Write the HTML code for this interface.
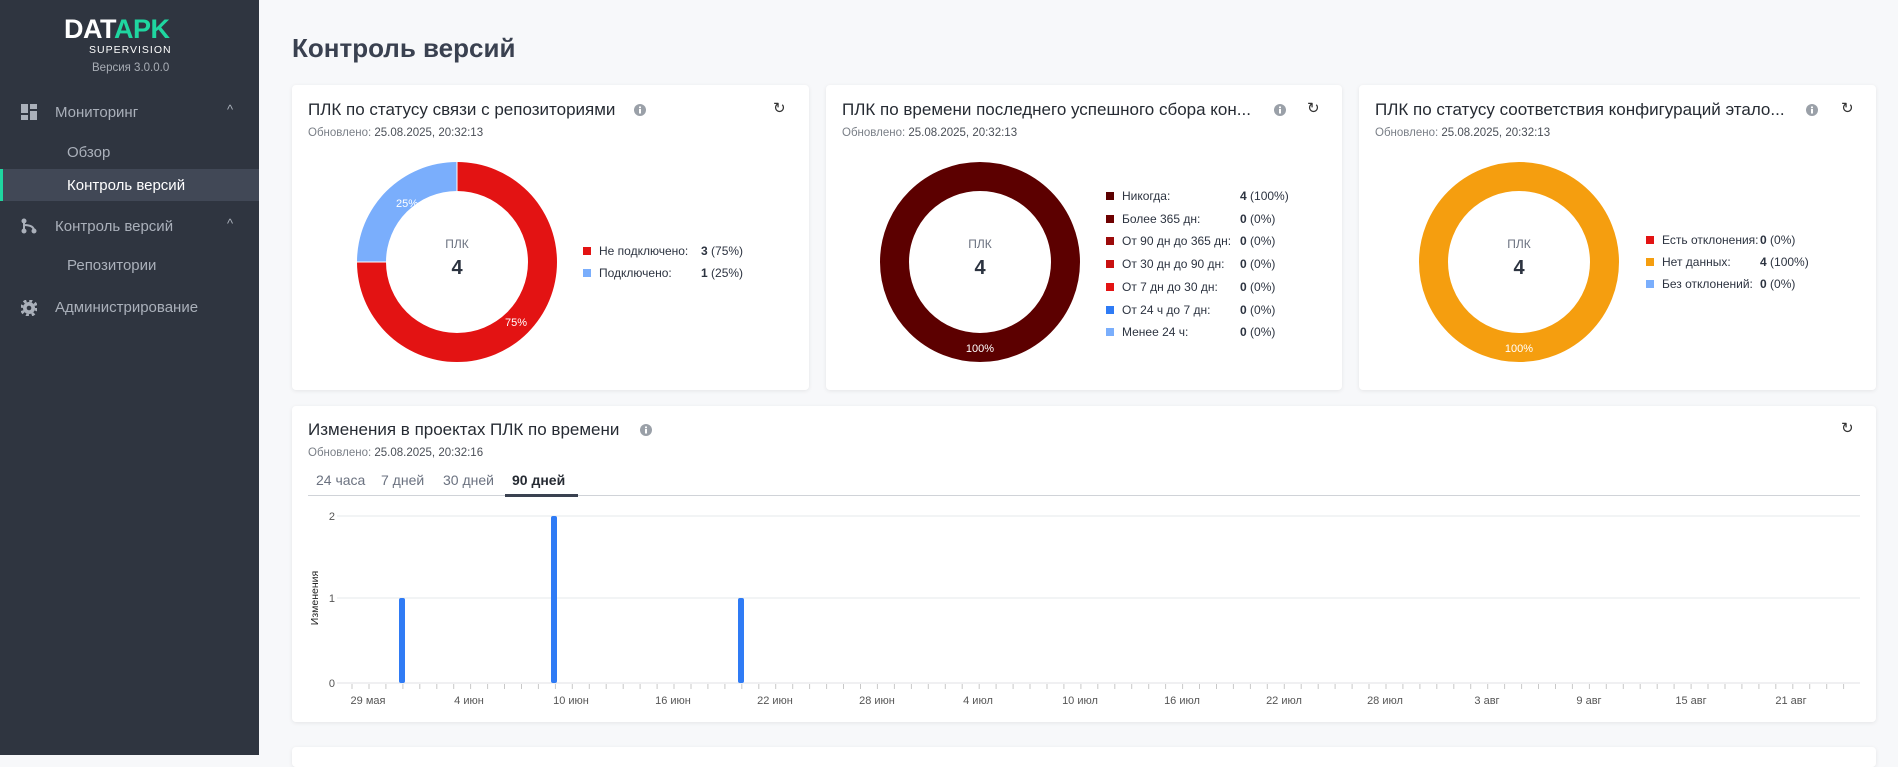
<!DOCTYPE html>
<html><head><meta charset="utf-8"><style>
*{margin:0;padding:0;box-sizing:border-box}
body{width:1898px;height:755px;overflow:hidden;background:#f7f8fa;font-family:"Liberation Sans",sans-serif;position:relative;color:#2c3340}
.a{position:absolute;white-space:nowrap}
.side{position:absolute;left:0;top:0;width:259px;height:755px;background:#2f3540}
.card{position:absolute;background:#fff;border-radius:4px;box-shadow:0 1px 4px rgba(0,0,0,.08)}
.t{font-size:17px;color:#262b33}
.u{font-size:11.5px;color:#7a7f87}
.u b{color:#4a4f57;font-weight:normal}
.nav{color:#aab0ba;font-size:15px}
.lg{font-size:12px;color:#2c3340}
.sq{display:inline-block;width:8px;height:8px;margin-right:8px;vertical-align:0}
</style></head><body>
<div class="side">
 <div class="a" style="left:64px;top:14px;font-size:27px;font-weight:bold;letter-spacing:-0.5px;color:#fff">DAT<span style="color:#1fd6a0">APK</span></div>
 <div class="a" style="left:89px;top:44px;font-size:10.5px;color:#fff;letter-spacing:1px">SUPERVISION</div>
 <div class="a" style="left:92px;top:62px;font-size:11.5px;color:#a8adb5">Версия 3.0.0.0</div>
 <svg class="a" style="left:21px;top:104px" width="16" height="16"><rect x="0" y="0" width="7" height="9" fill="#aab0ba"/><rect x="9" y="0" width="7" height="5" fill="#aab0ba"/><rect x="9" y="7" width="7" height="9" fill="#aab0ba"/><rect x="0" y="11" width="7" height="5" fill="#aab0ba"/></svg>
 <div class="a nav" style="left:55px;top:104px">Мониторинг</div>
 <div class="a nav" style="left:227px;top:102px;font-size:13px">^</div>
 <div class="a nav" style="left:67px;top:144px">Обзор</div>
 <div class="a" style="left:0;top:169px;width:259px;height:32px;background:#414856;border-left:3px solid #1fd6a0"></div>
 <div class="a" style="left:67px;top:177px;font-size:15px;color:#fff">Контроль версий</div>
 <svg class="a" style="left:21px;top:218px" width="16" height="16"><circle cx="3" cy="3" r="2.5" fill="#aab0ba"/><circle cx="3" cy="13" r="2.5" fill="#aab0ba"/><circle cx="13" cy="13" r="2.5" fill="#aab0ba"/><path d="M3 3V13M3 7Q13 7 13 13" stroke="#aab0ba" stroke-width="2" fill="none"/></svg>
 <div class="a nav" style="left:55px;top:218px">Контроль версий</div>
 <div class="a nav" style="left:227px;top:216px;font-size:13px">^</div>
 <div class="a nav" style="left:67px;top:257px">Репозитории</div>
 <svg class="a" style="left:21px;top:300px" width="16" height="16"><circle cx="8" cy="8" r="6" fill="#aab0ba"/><circle cx="8" cy="8" r="7.5" fill="none" stroke="#aab0ba" stroke-width="3" stroke-dasharray="3 2.9"/><circle cx="8" cy="8" r="2.3" fill="#2f3540"/></svg>
 <div class="a nav" style="left:55px;top:299px">Администрирование</div>
</div>
<div class="a" style="left:292px;top:33px;font-size:26px;font-weight:bold;color:#3a4150">Контроль версий</div>

<!-- card 1 -->
<div class="card" style="left:292px;top:85px;width:517px;height:305px"></div>
<div class="a t" style="left:308px;top:100px">ПЛК по статусу связи с репозиториями</div>
<svg class="a" style="left:634px;top:104px" width="12" height="12"><circle cx="6" cy="6" r="6" fill="#9aa0a8"/><rect x="5" y="5" width="2" height="4.5" fill="#fff"/><rect x="5" y="2.5" width="2" height="1.7" fill="#fff"/></svg>
<div class="a" style="left:773px;top:99px;font-size:15px;color:#333">↻</div>
<div class="a u" style="left:308px;top:127px">Обновлено: <b>25.08.2025, 20:32:13</b></div>
<svg class="a" style="left:357px;top:162px" width="200" height="200">
 <path d="M100 0A100 100 0 1 1 0 100L29 100A71 71 0 1 0 100 29Z" fill="#e31313"/>
 <path d="M0 100A100 100 0 0 1 100 0L100 29A71 71 0 0 0 29 100Z" fill="#7aaefc"/>
 <line x1="100" y1="0" x2="100" y2="29" stroke="#fff" stroke-width="1"/>
 <line x1="0" y1="100" x2="29" y2="100" stroke="#fff" stroke-width="1"/>
 <text x="39" y="45" font-size="11" fill="#fff" font-family="Liberation Sans">25%</text>
 <text x="148" y="164" font-size="11" fill="#fff" font-family="Liberation Sans">75%</text>
 <text x="100" y="86" font-size="12" fill="#6b7280" text-anchor="middle" font-family="Liberation Sans">ПЛК</text>
 <text x="100" y="112" font-size="20" font-weight="bold" fill="#2c3340" text-anchor="middle" font-family="Liberation Sans">4</text>
</svg>
<div class="a lg" style="left:583px;top:244px"><span class="sq" style="background:#e31313"></span>Не подключено:</div><div class="a lg" style="left:701px;top:244px"><b>3</b> (75%)</div>
<div class="a lg" style="left:583px;top:266px"><span class="sq" style="background:#7aaefc"></span>Подключено:</div><div class="a lg" style="left:701px;top:266px"><b>1</b> (25%)</div>

<!-- card 2 -->
<div class="card" style="left:826px;top:85px;width:516px;height:305px"></div>
<div class="a t" style="left:842px;top:100px">ПЛК по времени последнего успешного сбора кон...</div>
<svg class="a" style="left:1274px;top:104px" width="12" height="12"><circle cx="6" cy="6" r="6" fill="#9aa0a8"/><rect x="5" y="5" width="2" height="4.5" fill="#fff"/><rect x="5" y="2.5" width="2" height="1.7" fill="#fff"/></svg>
<div class="a" style="left:1307px;top:99px;font-size:15px;color:#333">↻</div>
<div class="a u" style="left:842px;top:127px">Обновлено: <b>25.08.2025, 20:32:13</b></div>
<svg class="a" style="left:880px;top:162px" width="200" height="200">
 <circle cx="100" cy="100" r="85.5" fill="none" stroke="#5c0000" stroke-width="29"/>
 <text x="100" y="190" font-size="11" fill="#fff" text-anchor="middle" font-family="Liberation Sans">100%</text>
 <text x="100" y="86" font-size="12" fill="#6b7280" text-anchor="middle" font-family="Liberation Sans">ПЛК</text>
 <text x="100" y="112" font-size="20" font-weight="bold" fill="#2c3340" text-anchor="middle" font-family="Liberation Sans">4</text>
</svg>
<div class="a lg" style="left:1106px;top:189px"><span class="sq" style="background:#5c0000"></span>Никогда:</div><div class="a lg" style="left:1240px;top:189px"><b>4</b> (100%)</div>
<div class="a lg" style="left:1106px;top:212px"><span class="sq" style="background:#6e0000"></span>Более 365 дн:</div><div class="a lg" style="left:1240px;top:212px"><b>0</b> (0%)</div>
<div class="a lg" style="left:1106px;top:234px"><span class="sq" style="background:#9c0a0a"></span>От 90 дн до 365 дн:</div><div class="a lg" style="left:1240px;top:234px"><b>0</b> (0%)</div>
<div class="a lg" style="left:1106px;top:257px"><span class="sq" style="background:#c81010"></span>От 30 дн до 90 дн:</div><div class="a lg" style="left:1240px;top:257px"><b>0</b> (0%)</div>
<div class="a lg" style="left:1106px;top:280px"><span class="sq" style="background:#e31313"></span>От 7 дн до 30 дн:</div><div class="a lg" style="left:1240px;top:280px"><b>0</b> (0%)</div>
<div class="a lg" style="left:1106px;top:303px"><span class="sq" style="background:#2f7bf5"></span>От 24 ч до 7 дн:</div><div class="a lg" style="left:1240px;top:303px"><b>0</b> (0%)</div>
<div class="a lg" style="left:1106px;top:325px"><span class="sq" style="background:#7aaefc"></span>Менее 24 ч:</div><div class="a lg" style="left:1240px;top:325px"><b>0</b> (0%)</div>

<!-- card 3 -->
<div class="card" style="left:1359px;top:85px;width:517px;height:305px"></div>
<div class="a t" style="left:1375px;top:100px">ПЛК по статусу соответствия конфигураций этало...</div>
<svg class="a" style="left:1806px;top:104px" width="12" height="12"><circle cx="6" cy="6" r="6" fill="#9aa0a8"/><rect x="5" y="5" width="2" height="4.5" fill="#fff"/><rect x="5" y="2.5" width="2" height="1.7" fill="#fff"/></svg>
<div class="a" style="left:1841px;top:99px;font-size:15px;color:#333">↻</div>
<div class="a u" style="left:1375px;top:127px">Обновлено: <b>25.08.2025, 20:32:13</b></div>
<svg class="a" style="left:1419px;top:162px" width="200" height="200">
 <circle cx="100" cy="100" r="85.5" fill="none" stroke="#f59e0f" stroke-width="29"/>
 <text x="100" y="190" font-size="11" fill="#fff" text-anchor="middle" font-family="Liberation Sans">100%</text>
 <text x="100" y="86" font-size="12" fill="#6b7280" text-anchor="middle" font-family="Liberation Sans">ПЛК</text>
 <text x="100" y="112" font-size="20" font-weight="bold" fill="#2c3340" text-anchor="middle" font-family="Liberation Sans">4</text>
</svg>
<div class="a lg" style="left:1646px;top:233px"><span class="sq" style="background:#e31313"></span>Есть отклонения:</div><div class="a lg" style="left:1760px;top:233px"><b>0</b> (0%)</div>
<div class="a lg" style="left:1646px;top:255px"><span class="sq" style="background:#f59e0f"></span>Нет данных:</div><div class="a lg" style="left:1760px;top:255px"><b>4</b> (100%)</div>
<div class="a lg" style="left:1646px;top:277px"><span class="sq" style="background:#7aaefc"></span>Без отклонений:</div><div class="a lg" style="left:1760px;top:277px"><b>0</b> (0%)</div>

<!-- card 4 -->
<div class="card" style="left:292px;top:406px;width:1584px;height:316px"></div>
<div class="a t" style="left:308px;top:420px">Изменения в проектах ПЛК по времени</div>
<svg class="a" style="left:640px;top:424px" width="12" height="12"><circle cx="6" cy="6" r="6" fill="#9aa0a8"/><rect x="5" y="5" width="2" height="4.5" fill="#fff"/><rect x="5" y="2.5" width="2" height="1.7" fill="#fff"/></svg>
<div class="a" style="left:1841px;top:419px;font-size:15px;color:#333">↻</div>
<div class="a u" style="left:308px;top:447px">Обновлено: <b>25.08.2025, 20:32:16</b></div>
<div class="a" style="left:316px;top:472px;font-size:14px;color:#6b7280">24 часа</div>
<div class="a" style="left:381px;top:472px;font-size:14px;color:#6b7280">7 дней</div>
<div class="a" style="left:443px;top:472px;font-size:14px;color:#6b7280">30 дней</div>
<div class="a" style="left:512px;top:472px;font-size:14px;font-weight:bold;color:#262b33">90 дней</div>
<div class="a" style="left:308px;top:495px;width:1552px;height:1px;background:#d0d3d8"></div>
<div class="a" style="left:505px;top:494px;width:73px;height:3px;background:#3a4150"></div>
<svg class="a" style="left:292px;top:500px" width="1584" height="222" id="ch">
 <g font-family="Liberation Sans" font-size="11" fill="#555">
 <line x1="45" y1="16" x2="1568" y2="16" stroke="#e6e8eb"/>
 <line x1="45" y1="98" x2="1568" y2="98" stroke="#e6e8eb"/>
 <line x1="45" y1="183" x2="1568" y2="183" stroke="#e0e2e6"/>
 <text x="43" y="20" text-anchor="end">2</text>
 <text x="43" y="102" text-anchor="end">1</text>
 <text x="43" y="187" text-anchor="end">0</text>
 <text transform="translate(26,98) rotate(-90)" text-anchor="middle" font-size="10.5" fill="#222">Изменения</text>
 <g stroke="#c8c8c8" id="tk"></g>
 <rect x="107" y="98" width="6" height="85" rx="2" fill="#2f7bf5"/>
 <rect x="259" y="16" width="6" height="167" rx="2" fill="#2f7bf5"/>
 <rect x="446" y="98" width="6" height="85" rx="2" fill="#2f7bf5"/>
 <text x="76" y="204" text-anchor="middle">29 мая</text>
 <text x="177" y="204" text-anchor="middle">4 июн</text>
 <text x="279" y="204" text-anchor="middle">10 июн</text>
 <text x="381" y="204" text-anchor="middle">16 июн</text>
 <text x="483" y="204" text-anchor="middle">22 июн</text>
 <text x="585" y="204" text-anchor="middle">28 июн</text>
 <text x="686" y="204" text-anchor="middle">4 июл</text>
 <text x="788" y="204" text-anchor="middle">10 июл</text>
 <text x="890" y="204" text-anchor="middle">16 июл</text>
 <text x="992" y="204" text-anchor="middle">22 июл</text>
 <text x="1093" y="204" text-anchor="middle">28 июл</text>
 <text x="1195" y="204" text-anchor="middle">3 авг</text>
 <text x="1297" y="204" text-anchor="middle">9 авг</text>
 <text x="1399" y="204" text-anchor="middle">15 авг</text>
 <text x="1499" y="204" text-anchor="middle">21 авг</text>
 </g>
</svg>
<script>
var g=document.getElementById('tk'),s='';
for(var x=60;x<1568;x+=16.95){s+='<line x1="'+x.toFixed(1)+'" y1="184" x2="'+x.toFixed(1)+'" y2="189"/>';}
g.innerHTML=s;
</script>
<div class="card" style="left:292px;top:747px;width:1584px;height:20px"></div>
</body></html>
